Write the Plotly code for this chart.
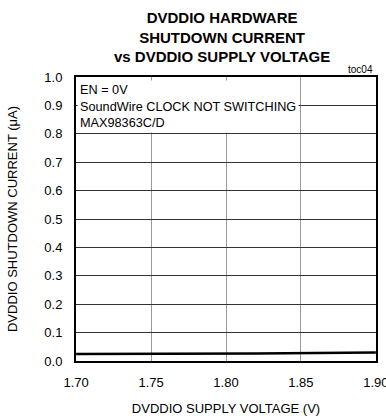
import plotly.graph_objects as go

voltage = [1.70, 1.72, 1.74, 1.76, 1.78, 1.80, 1.82, 1.84, 1.86, 1.88, 1.90]
current = [0.025, 0.025, 0.024, 0.025, 0.026, 0.026, 0.026, 0.027, 0.028, 0.029, 0.030]
x_ticks = [1.70, 1.75, 1.80, 1.85, 1.90]
x_tick_labels = ["1.70", "1.75", "1.80", "1.85", "1.90"]
y_ticks = [0.0, 0.1, 0.2, 0.3, 0.4, 0.5, 0.6, 0.7, 0.8, 0.9, 1.0]
y_tick_labels = ["0.0", "0.1", "0.2", "0.3", "0.4", "0.5", "0.6", "0.7", "0.8", "0.9", "1.0"]

FONT = "Liberation Sans, Arial, sans-serif"

fig = go.Figure()
fig.add_trace(go.Scatter(x=voltage, y=current, mode="lines",
                         line=dict(color="black", width=2.5), showlegend=False,
                         hoverinfo="skip"))

fig.update_layout(
    width=386, height=416,
    margin=dict(l=76, r=10, t=77, b=55),
    paper_bgcolor="white", plot_bgcolor="white",
    font=dict(family=FONT, size=13, color="black"),
    xaxis=dict(range=[1.6999, 1.9001], tickvals=x_ticks, ticktext=x_tick_labels,
               showgrid=True, gridcolor="#999999", gridwidth=1,
               showline=True, linecolor="black", linewidth=2, mirror=True,
               ticks="", zeroline=False, ticklabelstandoff=8,
               ticklabeloverflow="allow", automargin=False,
               title=dict(text="DVDDIO SUPPLY VOLTAGE (V)", standoff=16,
                          font=dict(size=13))),
    yaxis=dict(range=[0.0, 1.0], tickvals=y_ticks, ticktext=y_tick_labels,
               showgrid=True, gridcolor="#333333", gridwidth=1,
               showline=True, linecolor="black", linewidth=2, mirror=True,
               ticks="", zeroline=False, ticklabelstandoff=9, automargin=False,
               title=dict(text="DVDDIO SHUTDOWN CURRENT (μA)", standoff=24,
                          font=dict(size=13))),
)

fig.add_annotation(
    xref="paper", yref="paper", x=0.487, y=1.0, xanchor="center", yanchor="bottom",
    yshift=10,
    text="<b>DVDDIO HARDWARE<br>SHUTDOWN CURRENT<br>vs DVDDIO SUPPLY VOLTAGE</b>",
    showarrow=False, align="center",
    font=dict(family=FONT, size=15, color="black"))

fig.add_annotation(
    xref="paper", yref="paper", x=0.003, y=0.99, xanchor="left", yanchor="top",
    text="EN = 0V<br>SoundWire CLOCK NOT SWITCHING<br>MAX98363C/D",
    align="left", showarrow=False, bgcolor="white", borderpad=2,
    font=dict(family=FONT, size=12.7, color="black"))

fig.add_annotation(
    xref="paper", yref="paper", x=0.995, y=1.0, xanchor="right", yanchor="bottom",
    text="toc04", showarrow=False, font=dict(family=FONT, size=10, color="black"))

fig.write_html("out.html")
